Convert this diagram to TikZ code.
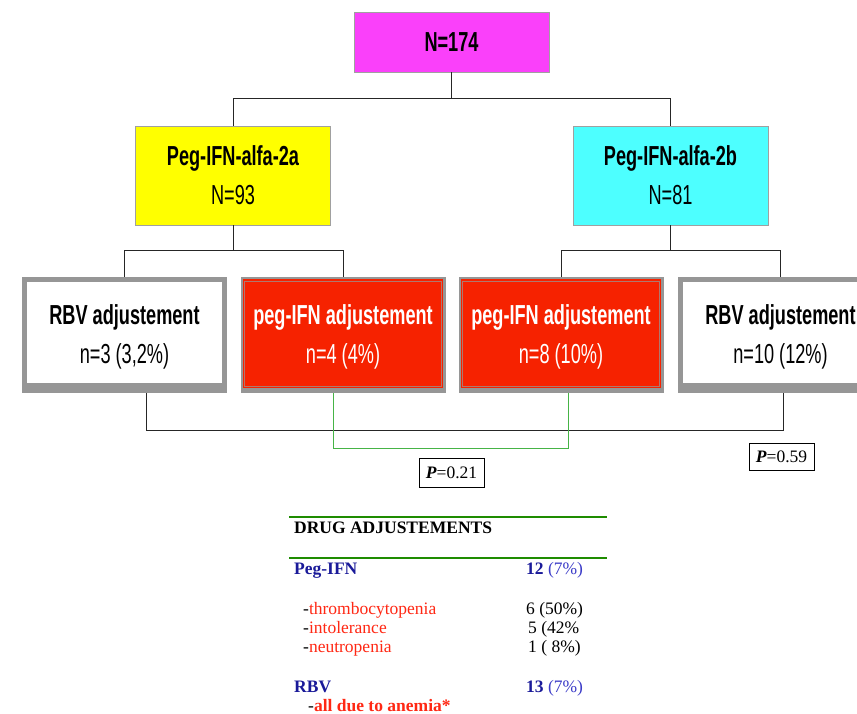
\documentclass[tikz,border=0pt]{standalone}
\usepackage{fontspec}
\setmainfont{Liberation Serif}
\newfontfamily\nar[FakeStretch=0.66]{Liberation Sans}
\definecolor{magbox}{RGB}{250,64,250}
\definecolor{yelbox}{RGB}{255,255,0}
\definecolor{cyanbox}{RGB}{77,255,255}
\definecolor{redbox}{RGB}{246,34,0}
\definecolor{framegray}{RGB}{150,150,150}
\definecolor{boxline}{RGB}{160,160,160}
\definecolor{innerline}{RGB}{175,120,110}
\definecolor{tgreen}{RGB}{30,140,0}
\definecolor{lgreen}{RGB}{70,180,70}
\definecolor{navy}{RGB}{26,26,153}
\definecolor{lblue}{RGB}{60,60,200}
\definecolor{tred}{RGB}{255,40,20}
\begin{document}
\begin{tikzpicture}[x=1pt,y=-1pt,
  topbox/.style={draw=boxline, line width=0.8pt, inner sep=0pt, minimum width=195pt,
    align=center, font=\nar\fontsize{27.5}{39}\selectfont},
  framebox/.style={fill=framegray, inner sep=0pt, minimum width=205pt, minimum height=116pt},
  btext/.style={align=center, font=\nar\fontsize{27.5}{39}\selectfont},
  conn/.style={draw=black!85, line width=0.7pt},
  gconn/.style={draw=lgreen, line width=0.8pt},
  tab/.style={anchor=base west, inner sep=0pt, font=\fontsize{17.5}{20}\selectfont},
  pbox/.style={draw=black, line width=0.7pt, inner sep=0pt, minimum height=28pt, minimum width=65pt,
    font=\fontsize{17.5}{20}\selectfont}]
\useasboundingbox (0,0) rectangle (857,714);
\clip (0,0) rectangle (857,714);
\fill[white] (0,0) rectangle (857,714);

% top level
\node[topbox, fill=magbox, minimum height=60pt] (top) at (451.5,42) {\bfseries N=174};
\node[topbox, fill=yelbox, minimum height=99pt] (yel) at (233,175.5) {\bfseries Peg-IFN-alfa-2a\\N=93};
\node[topbox, fill=cyanbox, minimum height=99pt] (cyn) at (670.5,175.5) {\bfseries Peg-IFN-alfa-2b\\N=81};

% bottom framed boxes
\node[framebox] (b1) at (124.5,335) {};
\fill[white] ([shift={(5pt,-5pt)}]b1.north west) rectangle ([shift={(-5pt,10pt)}]b1.south east);
\node[framebox] (b2) at (343,335) {};
\fill[redbox] ([shift={(2.5pt,-2.5pt)}]b2.north west) rectangle ([shift={(-2.5pt,5pt)}]b2.south east);
\draw[innerline, line width=0.7pt] ([shift={(4.5pt,-4.5pt)}]b2.north west) rectangle ([shift={(-4.5pt,7pt)}]b2.south east);
\node[framebox] (b3) at (561,335) {};
\fill[redbox] ([shift={(2.5pt,-2.5pt)}]b3.north west) rectangle ([shift={(-2.5pt,5pt)}]b3.south east);
\draw[innerline, line width=0.7pt] ([shift={(4.5pt,-4.5pt)}]b3.north west) rectangle ([shift={(-4.5pt,7pt)}]b3.south east);
\node[framebox] (b4) at (780.5,335) {};
\fill[white] ([shift={(5pt,-5pt)}]b4.north west) rectangle ([shift={(-5pt,10pt)}]b4.south east);

\node[btext] (t1) at ([yshift=-2pt]b1.center) {\bfseries RBV adjustement\\n=3 (3,2\%)};
\node[btext, text=white] (t2) at ([yshift=-2pt]b2.center) {\bfseries peg-IFN adjustement\\n=4 (4\%)};
\node[btext, text=white] (t3) at ([yshift=-2pt]b3.center) {\bfseries peg-IFN adjustement\\n=8 (10\%)};
\node[btext] (t4) at ([yshift=-2pt]b4.center) {\bfseries RBV adjustement\\n=10 (12\%)};

% connectors
\draw[conn] (top.south) -- ++(0,26) coordinate (j0);
\draw[conn] (yel.north) |- (j0) -| (cyn.north);
\draw[conn] (yel.south) -- ++(0,25) coordinate (j1);
\draw[conn] (b1.north) |- (j1) -| (b2.north);
\draw[conn] (cyn.south) -- ++(0,25) coordinate (j2);
\draw[conn] (b3.north) |- (j2) -| (b4.north);
\draw[conn] ([xshift=21.5pt]b1.south) -- ++(0,37) -| ([xshift=2.5pt]b4.south);
\draw[gconn] ([xshift=-10pt]b2.south) -- ++(0,55) -| ([xshift=7pt]b3.south);

% p-values
\node[pbox, minimum height=29pt] (p1) at (451.5,472.5) {\textbf{\textit{P}}=0.21};
\node[pbox, minimum height=27pt] (p2) at (781.5,456.5) {\textbf{\textit{P}}=0.59};

% table
\draw[tgreen, line width=2.5pt] (289,517) -- (607,517);
\draw[tgreen, line width=2.5pt] (289,558) -- (607,558);
\node[tab] (h) at (294,533) {\bfseries DRUG ADJUSTEMENTS};
\node[tab, text=navy] (r1) at (294,574) {\bfseries Peg-IFN};
\node[tab] (r1v) at (526,574) {\textcolor{navy}{\bfseries 12} \textcolor{lblue}{(7\%)}};
\node[tab] (r2) at (303,614) {-\textcolor{tred}{thrombocytopenia}};
\node[tab] (r2v) at (526,614) {6 (50\%)};
\node[tab] (r3) at (303,633) {-\textcolor{tred}{intolerance}};
\node[tab] (r3v) at (528,633) {5 (42\%};
\node[tab] (r4) at (303,652) {-\textcolor{tred}{neutropenia}};
\node[tab] (r4v) at (528,652) {1 ( 8\%)};
\node[tab, text=navy] (r5) at (294,692) {\bfseries RBV};
\node[tab] (r5v) at (526,692) {\textcolor{navy}{\bfseries 13} \textcolor{lblue}{(7\%)}};
\node[tab] (r6) at (308,711) {-\textcolor{tred}{\bfseries all due to anemia*}};
\end{tikzpicture}
\end{document}
